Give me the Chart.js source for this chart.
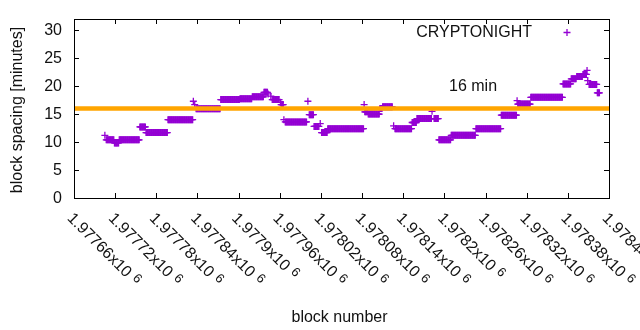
<!DOCTYPE html>
<html><head><meta charset="utf-8">
<script src="https://cdn.jsdelivr.net/npm/chart.js@4/dist/chart.umd.min.js"></script>
<style>html,body{margin:0;padding:0;background:#fff}canvas{display:block}</style>
</head><body>
<canvas id="c" width="640" height="330"></canvas>
<script>
// ---- data ----
const seriesName = 'CRYPTONIGHT';
const targetLabel = '16 min';
const targetMinutes = 16;
// runs of consecutive blocks that share (approximately) the same spacing value
const runStart = [1977705,1977707,1977719,1977726,1977756,1977765,1977797,1977834,1977836,1977838,
  1977874,1977902,1977920,1977937,1977943,1977947,1977949,1977961,1977962,1977966,
  1977968,1978001,1978003,1978010,1978019,1978021,1978030,1978083,1978084,1978089,
  1978106,1978110,1978126,1978128,1978153,1978160,1978182,1978185,1978192,1978210,
  1978246,1978283,1978306,1978307,1978326,1978373,1978385,1978393,1978402,1978408,
  1978409,1978411,1978423];
const runEnd = [1977705,1977718,1977725,1977755,1977764,1977796,1977833,1977834,1977836,1977873,
  1977901,1977919,1977936,1977942,1977943,1977947,1977959,1977961,1977965,1977966,
  1977999,1978001,1978009,1978017,1978019,1978029,1978082,1978083,1978088,1978105,
  1978109,1978124,1978126,1978152,1978159,1978181,1978182,1978191,1978209,1978245,
  1978282,1978305,1978306,1978325,1978372,1978384,1978392,1978401,1978407,1978408,
  1978409,1978422,1978426];
const runValue = [11.2,10.4,9.85,10.4,12.7,11.7,14.0,17.3,16.7,15.95,
  17.6,17.75,18.1,18.9,18.6,18.2,17.6,17.1,16.7,14.0,
  13.6,17.3,14.9,12.8,13.3,11.7,12.4,16.7,15.4,15.0,
  16.0,16.3,12.9,12.4,13.5,14.2,15.5,14.2,10.4,11.2,
  12.4,14.8,17.4,16.8,18.0,20.4,21.3,21.7,22.1,22.8,
  21.0,20.3,18.8];
const xTickValues = [1977660,1977720,1977780,1977840,1977900,1977960,1978020,1978080,1978140,1978200,1978260,1978320,1978380,1978440];
const xTickMantissa = ['1.97766','1.97772','1.97778','1.97784','1.9779','1.97796','1.97802','1.97808','1.97814','1.9782','1.97826','1.97832','1.97838','1.97844'];
const xTickExponent = '6';
const yTickValues = [0,5,10,15,20,25,30];
const yTickLabels = ['0','5','10','15','20','25','30'];
const xMin = 1977660, xMax = 1978440, yMin = 0, yMax = 32;
const xTitle = 'block number';
const yTitle = 'block spacing [minutes]';

// ---- build chart data from the arrays ----
const points = [];
for (let i = 0; i < runStart.length; i++) {
  for (let b = runStart[i]; b <= runEnd[i]; b++) points.push({x: b, y: runValue[i]});
}
const targetLine = [{x: xMin, y: targetMinutes}, {x: xMax, y: targetMinutes}];

const PURPLE = '#9400D3', ORANGE = '#FFA500', TXT = '#111';
const FONT = '16px "Liberation Sans", Arial, sans-serif';

const decor = {
  id: 'decor',
  afterDraw(chart) {
    const ctx = chart.ctx, a = chart.chartArea, xs = chart.scales.x, ys = chart.scales.y;
    ctx.save();
    // border
    ctx.strokeStyle = '#000'; ctx.lineWidth = 1;
    ctx.strokeRect(Math.round(a.left) + 0.5, Math.round(a.top) + 0.5, Math.round(a.right - a.left), Math.round(a.bottom - a.top));
    // ticks (inward, mirrored)
    ctx.beginPath();
    xTickValues.forEach(v => {
      const px = Math.round(xs.getPixelForValue(v)) + 0.5;
      ctx.moveTo(px, a.bottom); ctx.lineTo(px, a.bottom - 5);
      ctx.moveTo(px, a.top); ctx.lineTo(px, a.top + 5);
    });
    yTickValues.forEach(v => {
      const py = Math.round(ys.getPixelForValue(v)) + 0.5;
      ctx.moveTo(a.left, py); ctx.lineTo(a.left + 5, py);
      ctx.moveTo(a.right, py); ctx.lineTo(a.right - 5, py);
    });
    ctx.stroke();
    ctx.fillStyle = TXT; ctx.font = FONT;
    // y tick labels
    ctx.textAlign = 'right'; ctx.textBaseline = 'middle';
    yTickValues.forEach((v, i) => ctx.fillText(yTickLabels[i], 62, ys.getPixelForValue(v) + 0.5));
    // x tick labels (rotated -45 like gnuplot)
    ctx.textAlign = 'left'; ctx.textBaseline = 'alphabetic';
    xTickValues.forEach((v, i) => {
      const px = xs.getPixelForValue(v);
      ctx.save();
      ctx.translate(px - 7.5, 219);
      ctx.rotate(Math.PI / 4);
      ctx.font = FONT;
      const main = xTickMantissa[i] + 'x10';
      ctx.fillText(main, 0, 0);
      const w = ctx.measureText(main).width;
      ctx.font = '13px "Liberation Sans", Arial, sans-serif';
      ctx.fillText(xTickExponent, w + 5, -4);
      ctx.restore();
    });
    // axis titles
    ctx.font = FONT; ctx.textAlign = 'center'; ctx.textBaseline = 'alphabetic';
    ctx.fillText(xTitle, 339.5, 321.5);
    ctx.save(); ctx.translate(21.5, 110); ctx.rotate(-Math.PI / 2); ctx.fillText(yTitle, 0, 0); ctx.restore();
    // legend
    ctx.textAlign = 'right';
    ctx.fillText(seriesName, 532, 37.3);
    ctx.strokeStyle = PURPLE; ctx.lineWidth = 1.3;
    ctx.beginPath(); ctx.moveTo(563.5, 32.5); ctx.lineTo(570.5, 32.5); ctx.moveTo(567, 29); ctx.lineTo(567, 36); ctx.stroke();
    // target label
    ctx.textAlign = 'left';
    ctx.fillText(targetLabel, 449, 91);
    ctx.restore();
  }
};

new Chart(document.getElementById('c'), {
  type: 'scatter',
  data: {
    datasets: [
      { label: targetLabel, data: targetLine, showLine: true, borderColor: ORANGE, borderWidth: 4.3,
        pointRadius: 0, pointHoverRadius: 0, order: 0, borderCapStyle: 'butt' },
      { label: seriesName, data: points, showLine: false, pointStyle: 'cross', pointRadius: 3.5,
        pointBorderWidth: 1.3, borderColor: PURPLE, backgroundColor: PURPLE, pointHoverRadius: 3.5, order: 1 }
    ]
  },
  options: {
    responsive: false, animation: false, devicePixelRatio: 1,
    layout: { padding: { left: 0, right: 31, top: 19, bottom: 0 } },
    plugins: { legend: { display: false }, tooltip: { enabled: false } },
    scales: {
      x: { type: 'linear', min: xMin, max: xMax, grid: { display: false }, border: { display: false },
           ticks: { display: false }, afterFit(s) { s.height = 132; } },
      y: { type: 'linear', min: yMin, max: yMax, grid: { display: false }, border: { display: false },
           ticks: { display: false }, afterFit(s) { s.width = 74; } }
    }
  },
  plugins: [decor]
});
</script>
</body></html>
